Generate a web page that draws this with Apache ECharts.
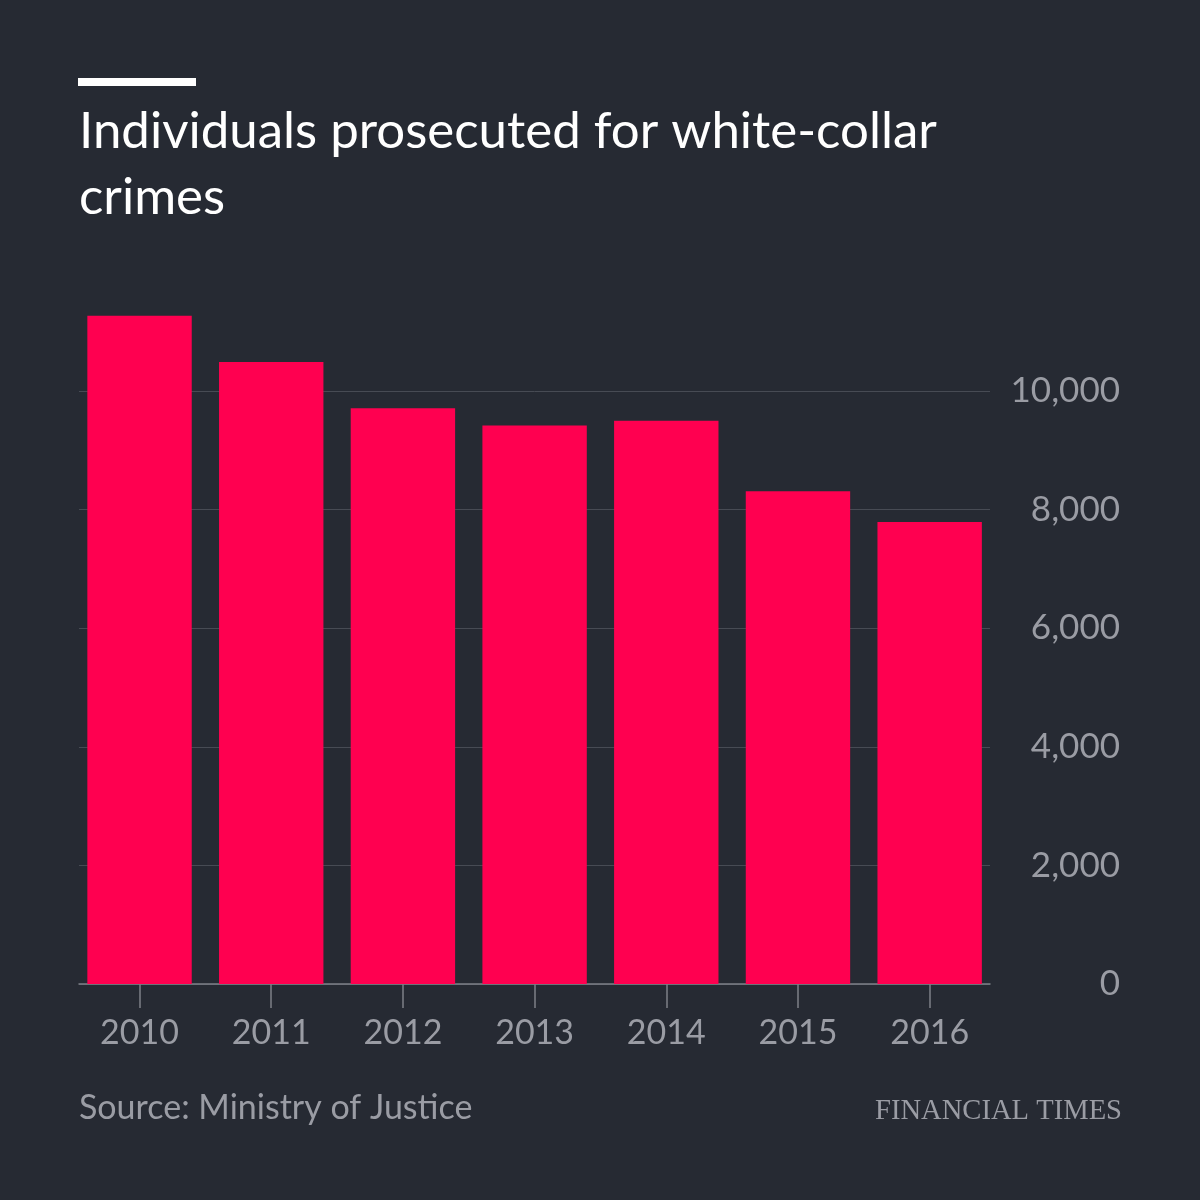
<!DOCTYPE html>
<html>
<head>
<meta charset="utf-8">
<script src="https://cdn.jsdelivr.net/npm/echarts@6/dist/echarts.min.js"></script>
<style>
html,body{margin:0;padding:0;background:#262a33;}
#chart{width:1200px;height:1200px;}
</style>
</head>
<body>
<div id="chart"></div>
<script>
const years = ['2010','2011','2012','2013','2014','2015','2016'];
const prosecutions = [11270, 10490, 9710, 9420, 9500, 8310, 7790];
const yTicks = [0, 2000, 4000, 6000, 8000, 10000];
const titleText = 'Individuals prosecuted for white-collar\ncrimes';
const sourceText = 'Source: Ministry of Justice';
const brandText = 'FINANCIAL TIMES';

const grey = '#9a9ca4';
const chart = echarts.init(document.getElementById('chart'));
chart.setOption({
  backgroundColor: '#262a33',
  animation: false,
  title: {
    text: titleText,
    left: 79, top: 99, padding: 0,
    textStyle: { color: '#ffffff', fontFamily: 'Lato', fontWeight: 'normal', fontSize: 51, lineHeight: 66 }
  },
  graphic: [
    { type: 'rect', left: 78, top: 78, shape: { width: 118, height: 8 }, style: { fill: '#ffffff' } },
    { type: 'text', left: 79, top: 1091, style: { text: sourceText, fill: grey, font: '34px Lato' } },
    { type: 'text', right: 78, top: 1097, style: { text: brandText, fill: grey, font: '28.6px "Liberation Serif"' } }
  ],
  grid: [
    { left: 73.7, right: 204.5, top: 272.4, bottom: 216 },
    { left: 79, right: 210, top: 391, bottom: 216 }
  ],
  xAxis: [
    {
      type: 'category', gridIndex: 0, data: years,
      axisLine: { show: false },
      axisTick: { show: true, alignWithLabel: true, length: 24, lineStyle: { color: '#7d8088', width: 1.5 } },
      axisLabel: { color: grey, fontFamily: 'Lato', fontSize: 34, margin: 32 },
      splitLine: { show: false }
    },
    {
      type: 'category', gridIndex: 1, data: years,
      axisLine: { show: true, lineStyle: { color: '#7d8088', width: 1.5 } },
      axisTick: { show: false }, axisLabel: { show: false }, splitLine: { show: false }
    }
  ],
  yAxis: [
    { type: 'value', gridIndex: 0, min: 0, max: 12000, show: false },
    {
      type: 'value', gridIndex: 1, position: 'right',
      min: yTicks[0], max: yTicks[yTicks.length - 1], interval: 2000,
      axisLine: { show: false }, axisTick: { show: false },
      splitLine: { show: true, lineStyle: { color: '#474b54', width: 1 } },
      axisLabel: {
        color: grey, fontFamily: 'Lato', fontSize: 35, align: 'right', margin: 130,
        formatter: v => v.toLocaleString('en-US')
      }
    }
  ],
  series: [
    {
      type: 'bar', xAxisIndex: 0, yAxisIndex: 0, data: prosecutions,
      barWidth: 104.4,
      itemStyle: { color: '#ff0050' },
      z: 5
    }
  ]
});
</script>
</body>
</html>
